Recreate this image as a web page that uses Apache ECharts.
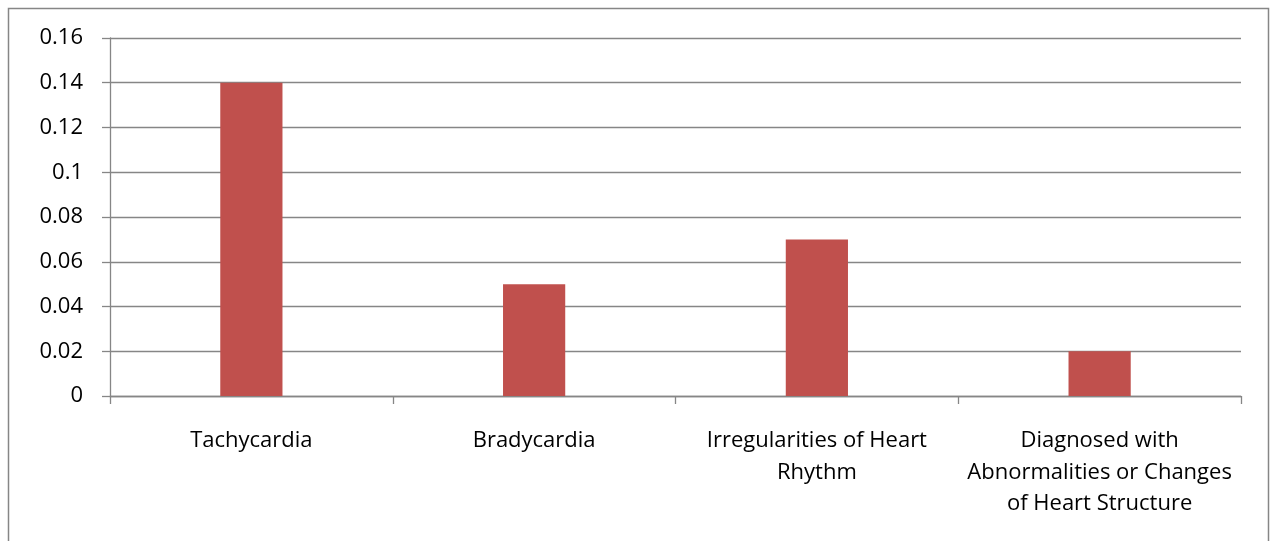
<!DOCTYPE html>
<html><head><meta charset="utf-8">
<script src="https://cdn.jsdelivr.net/npm/echarts@6/dist/echarts.min.js"></script>
<style>html,body{margin:0;padding:0;background:#fff}#c{width:1270px;height:541px}</style>
</head><body><div id="c"></div>
<script>
const categories = ["Tachycardia", "Bradycardia", "Irregularities of Heart Rhythm", "Diagnosed with Abnormalities or Changes of Heart Structure"];
const categoryLabels = ["Tachycardia", "Bradycardia", "Irregularities of Heart\nRhythm", "Diagnosed with\nAbnormalities or Changes\nof Heart Structure"];
const values = [0.14, 0.05, 0.07, 0.02];
const yTicks = [0, 0.02, 0.04, 0.06, 0.08, 0.1, 0.12, 0.14, 0.16];

const chart = echarts.init(document.getElementById('c'));
const font = 'Open Sans';
chart.setOption({
  animation: false,
  graphic: [{type:'rect', shape:{x:8.5,y:8.5,width:1260,height:600}, style:{fill:'none', stroke:'#868686', lineWidth:1.5}, silent:true}],
  grid: {left:110, right:29, top:38, bottom:145, containLabel:false},
  xAxis: {
    type:'category', data: categories,
    axisLine:{lineStyle:{color:'#868686', width:1.3}},
    axisTick:{show:true, length:8, lineStyle:{color:'#868686', width:1.3}},
    axisLabel:{color:'#000', fontFamily:font, fontSize:22, margin:29, lineHeight:31.5, interval:0,
      formatter: (v, i) => categoryLabels[i]}
  },
  yAxis: {
    type:'value', min:0, max:0.16, interval:0.02,
    axisLine:{show:true, lineStyle:{color:'#868686', width:1.3}},
    axisTick:{show:true, length:8, lineStyle:{color:'#868686', width:1.3}},
    splitLine:{lineStyle:{color:'#868686', width:1.3}},
    axisLabel:{color:'#000', fontFamily:font, fontSize:22, margin:27, formatter: v => { const t = yTicks.find(x => Math.abs(x - v) < 1e-9); return String(t !== undefined ? t : v); }}
  },
  series: [{type:'bar', data: values, barWidth:'22%', itemStyle:{color:'#C0504D'}}]
});
</script></body></html>
